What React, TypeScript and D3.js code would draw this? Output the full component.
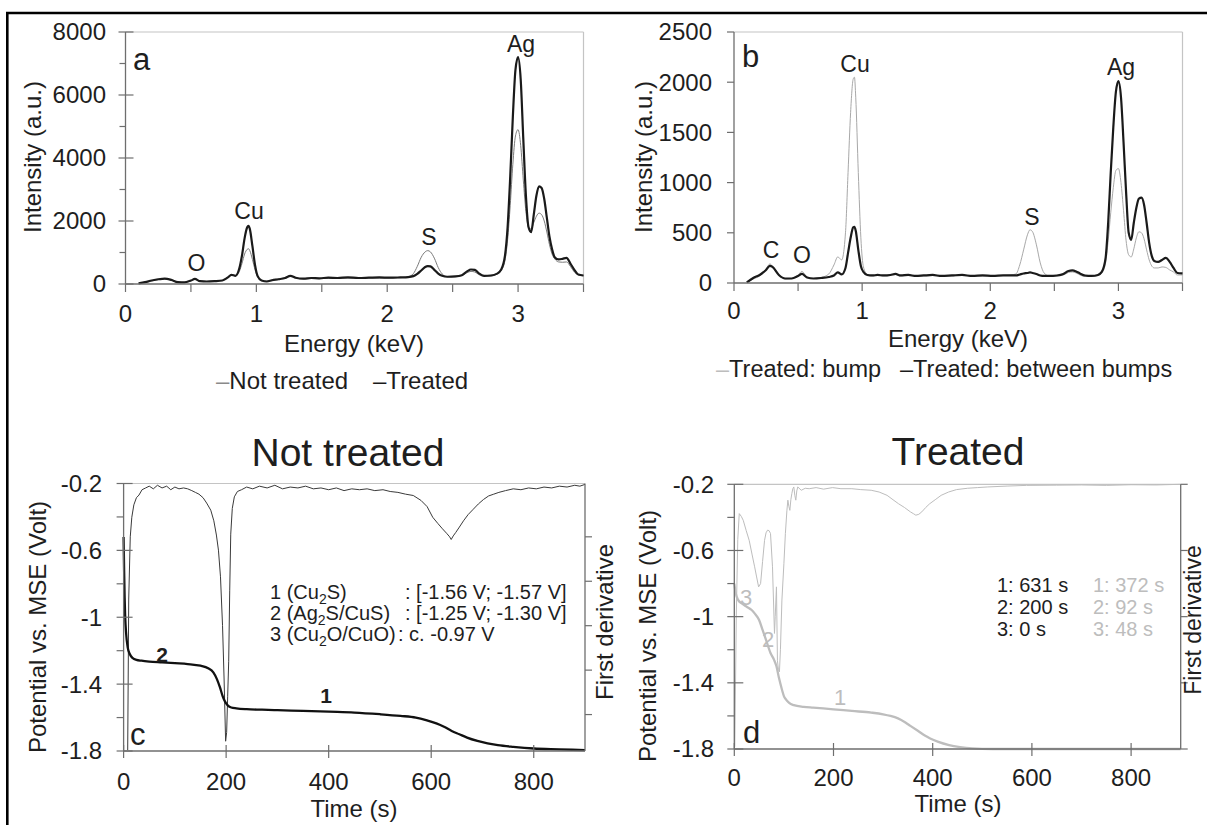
import React from 'react';
import * as d3 from 'd3';

// ---------- DATA ----------
const energyKeV = [
  0.10, 0.15, 0.20, 0.25, 0.28, 0.30, 0.35, 0.40, 0.45, 0.50,
  0.53, 0.57, 0.62, 0.68, 0.74, 0.78, 0.81, 0.84, 0.87, 0.89,
  0.91, 0.93, 0.94, 0.95, 0.97, 0.99, 1.01, 1.04, 1.08, 1.12,
  1.17, 1.22, 1.26, 1.30, 1.36, 1.42, 1.48, 1.55, 1.62, 1.70,
  1.78, 1.86, 1.94, 2.02, 2.10, 2.16, 2.20, 2.23, 2.26, 2.29,
  2.31, 2.33, 2.36, 2.39, 2.42, 2.46, 2.52, 2.57, 2.61, 2.64,
  2.67, 2.70, 2.74, 2.79, 2.84, 2.87, 2.90, 2.92, 2.94, 2.96,
  2.98, 3.00, 3.02, 3.04, 3.06, 3.08, 3.10, 3.12, 3.14, 3.16,
  3.18, 3.20, 3.22, 3.24, 3.26, 3.28, 3.31, 3.34, 3.37, 3.40,
  3.43, 3.46, 3.50,
];

// Panel a
const intensityTreated = [
  20, 60, 110, 150, 165, 170, 130, 60, 50, 110,
  160, 90, 80, 90, 110, 200, 290, 260, 500, 900,
  1450, 1800, 1850, 1750, 1200, 600, 250, 110, 80, 120,
  150, 190, 260, 200, 170, 190, 180, 200, 190, 210,
  190, 200, 210, 200, 210, 220, 250, 320, 430, 540,
  570, 560, 450, 330, 260, 230, 240, 280, 400, 460,
  450, 340, 260, 270, 330, 450, 900, 1800, 3400, 5300,
  6800, 7200, 6500, 4600, 2800, 1800, 1650, 2200, 2800, 3100,
  3050, 2700, 2100, 1500, 1100, 850, 780, 800, 830, 650,
  450, 300, 270,
];
const intensityNotTreated = [
  20, 60, 100, 140, 155, 160, 120, 60, 50, 100,
  150, 90, 80, 90, 110, 220, 300, 260, 400, 650,
  950, 1100, 1120, 1060, 780, 450, 220, 110, 90, 130,
  160, 200, 250, 190, 160, 180, 170, 180, 180, 190,
  180, 190, 190, 190, 200, 230, 330, 560, 850, 1020,
  1060, 1020, 820, 520, 320, 230, 230, 270, 360, 400,
  380, 300, 250, 250, 320, 420, 750, 1400, 2500, 3800,
  4700, 4900, 4400, 3300, 2300, 1800, 1750, 1950, 2150, 2250,
  2200, 2000, 1650, 1250, 950, 800, 700, 690, 700, 560,
  380, 290, 260,
];

// Panel b
const intensityBetweenBumps = [
  5, 50, 80, 130, 170, 160, 80, 45, 45, 70,
  90, 55, 45, 50, 60, 75, 105, 85, 150, 300,
  450, 555, 560, 520, 330, 170, 110, 80, 75, 80,
  75, 80, 90, 75, 80, 70, 75, 80, 70, 75,
  80, 70, 75, 70, 75, 75, 75, 85, 95, 100,
  105, 100, 90, 75, 70, 70, 75, 90, 120, 125,
  115, 95, 75, 70, 80, 110, 250, 600, 1100, 1550,
  1900, 2010, 1850, 1400, 900, 500, 430, 600, 750, 840,
  850, 780, 600, 400, 270, 220, 210, 230, 250, 210,
  150, 100, 95,
];
const intensityBump = [
  5, 40, 70, 140, 190, 170, 80, 40, 45, 80,
  115, 60, 45, 55, 90, 180, 260, 230, 500, 1100,
  1700, 2030, 2050, 1850, 1100, 450, 160, 85, 70, 75,
  70, 75, 85, 70, 75, 70, 70, 75, 70, 70,
  75, 70, 70, 70, 75, 80, 90, 180, 330, 480,
  530, 510, 380, 200, 100, 70, 70, 80, 105, 110,
  100, 80, 65, 65, 75, 100, 200, 420, 700, 950,
  1120, 1140, 1000, 720, 420, 280, 260, 340, 450, 510,
  500, 440, 330, 230, 170, 150, 150, 160, 155, 130,
  110, 80, 80,
];

// Panel c (not treated)
const timeNotTreated = [
  0, 1, 2, 3, 5, 8, 12, 18, 25, 35, 50, 75, 100, 125, 150, 165, 175, 182, 188, 193,
  197, 200, 204, 210, 220, 240, 270, 300, 350, 400, 450, 500, 540, 570, 590, 610,
  625, 640, 655, 670, 690, 710, 730, 760, 800, 850, 900,
];
const potentialNotTreated = [
  -0.52, -0.72, -0.88, -0.99, -1.10, -1.18, -1.22, -1.245, -1.255, -1.26, -1.265, -1.27,
  -1.275, -1.28, -1.29, -1.305, -1.33, -1.37, -1.42, -1.47,
  -1.50, -1.515, -1.53, -1.54, -1.545, -1.55, -1.553, -1.556, -1.56, -1.565, -1.57, -1.58,
  -1.59, -1.60, -1.615, -1.635, -1.655, -1.68, -1.70, -1.72, -1.74, -1.755, -1.765, -1.775,
  -1.785, -1.79, -1.795,
];
const derivTimeNotTreated = [
  8, 10, 13, 16, 20, 25, 30, 36, 43, 50, 58, 66, 75, 84, 92, 100, 108, 117, 125, 133,
  140, 147, 155, 162, 170, 176, 181, 185, 189, 193, 196, 199, 201, 203, 205, 207, 209, 212,
  216, 222, 230, 240, 252, 265, 280, 295, 310, 325, 340, 355, 370, 385, 400, 415, 430, 445,
  460, 475, 490, 506, 520, 535, 550, 565, 580, 592, 603, 613, 622, 630, 636, 639, 643, 648,
  655, 663, 672, 682, 692, 702, 712, 722, 732, 745, 760, 775, 790, 805, 820, 835, 850, 865,
  880, 890, 900,
];
const derivNotTreated = [
  -29, -12, -5, -2.8, -1.4, -0.6, -0.3, 0.3, 0.5, 0.7, 0.4, 0.8, 0.5, 0.7, 0.3, 0.6, 0.4, 0.5, 0.4, 0.2,
  0.0, -0.2, -0.6, -1.2, -2.0, -3.2, -4.8, -6.5, -9.5, -15, -21, -28, -27, -23, -19, -11, -4.7, -1.8,
  -0.5, 0.1, 0.3, 0.6, 0.4, 0.7, 0.5, 0.8, 0.4, 0.6, 0.5, 0.7, 0.4, 0.5, 0.3, 0.5, 0.2, 0.4,
  0.3, 0.4, 0.2, 0.3, 0.1, 0.0, -0.2, -0.35, -0.9, -1.6, -2.8, -3.5, -4.1, -4.6, -5.0, -5.3, -4.9, -4.5,
  -3.9, -3.2, -2.5, -1.9, -1.3, -0.8, -0.4, -0.2, 0.0, 0.2, 0.4, 0.3, 0.5, 0.4, 0.6, 0.5, 0.7, 0.6,
  0.8, 0.7, 0.9,
];

// Panel d (treated)
const timeTreated = [
  0, 3, 8, 15, 25, 35, 41, 50, 57, 65, 73, 80, 85, 90, 96, 100, 104, 110, 120, 140,
  159, 200, 237, 276, 300, 315, 330, 345, 355, 370, 385, 394, 410, 433, 455, 480, 520, 600,
  700, 800, 900,
];
const potentialTreated = [
  -0.80, -0.86, -0.90, -0.92, -0.94, -0.96, -0.98, -1.02, -1.08, -1.15, -1.22, -1.26, -1.30,
  -1.37, -1.44, -1.48, -1.50, -1.52, -1.535, -1.545,
  -1.55, -1.56, -1.57, -1.58, -1.59, -1.60, -1.615, -1.64, -1.66, -1.69, -1.72, -1.735,
  -1.755, -1.776, -1.788, -1.796, -1.80, -1.80, -1.80, -1.80, -1.80,
];
const derivTimeTreated = [
  1, 4, 7, 10, 14, 18, 24, 30, 36, 41, 45, 49, 53, 57, 61, 64, 67, 70, 73, 77,
  81, 82.5, 85, 87, 89, 91, 93, 96, 100, 103, 106, 108, 110, 112, 114, 116, 118, 120, 122, 124,
  126, 128, 135, 143, 151, 165, 180, 198, 215, 237, 255, 276, 292, 308, 320, 331, 343, 355, 361, 366,
  372, 378, 386, 394, 405, 417, 432, 448, 470, 490, 511, 550, 589, 650, 700, 750, 800, 850, 900,
];
const derivTreated = [
  -11.9, -6.0, -2.5, -1.33, -1.45, -1.63, -2.1, -2.54, -3.2, -3.74, -4.2, -4.65, -4.5, -3.5, -2.54, -2.2, -2.08, -2.1, -2.23, -3.74,
  -6.76, -6.0, -4.65, -8.0, -8.4, -8.5, -7.5, -5.25, -3.6, -2.23, -1.2, -0.72, -1.0, -1.18, -0.7, -0.42, -0.2, -0.12, -0.5, -0.72,
  -0.3, -0.12, -0.27, -0.18, -0.2, -0.15, -0.22, -0.15, -0.2, -0.2, -0.24, -0.27, -0.35, -0.5, -0.7, -0.88, -1.05, -1.25, -1.33, -1.4,
  -1.36, -1.25, -1.05, -0.88, -0.7, -0.5, -0.35, -0.24, -0.18, -0.15, -0.12, -0.08, -0.05, -0.04, -0.03, -0.05, -0.02, -0.03, 0.0,
];

// Tick values
const energyTickLabels = [0, 1, 2, 3];
const aIntensityTicks = [0, 2000, 4000, 6000, 8000];
const bIntensityTicks = [0, 500, 1000, 1500, 2000, 2500];
const timeTickLabels = [0, 200, 400, 600, 800];
const potentialTickLabels = [-0.2, -0.6, -1, -1.4, -1.8];
const cDerivTicks = [-5, -10, -15, -20, -25];
const dDerivTicks = [0, -3, -6, -9, -12];

// ---------- STYLE ----------
const FONT = "'Liberation Sans', Arial, Helvetica, sans-serif";
const AXIS = '#6e6e6e';
const FRAME = '#c4c4c4';
const TXT = '#1e1e1e';
const LIGHT = '#bdbdbd';

function linePath(xs: number[], ys: number[], sx: any, sy: any, curve: any = d3.curveLinear) {
  const n = Math.min(xs.length, ys.length);
  const pts = d3.range(n).map((i) => [xs[i], ys[i]] as [number, number]);
  return (
    d3
      .line<[number, number]>()
      .x((d) => sx(d[0]))
      .y((d) => sy(d[1]))
      .curve(curve)(pts) || ''
  );
}

// ---------- PANELS ----------
function SpectrumPanel(props: {
  left: number; right: number; top: number; bottom: number;
  yMax: number; yTicks: number[]; yMinorStep: number | null; majorCross: boolean;
  labelEnd: number; tickLabelY: number;
  series: { values: number[]; color: string; width: number }[];
}) {
  const { left, right, top, bottom, yMax, yTicks, yMinorStep, majorCross, labelEnd, tickLabelY, series } = props;
  const sx = d3.scaleLinear().domain([0, 3.5]).range([left, right]);
  const sy = d3.scaleLinear().domain([0, yMax]).range([bottom, top]);
  const xMinor = d3.range(0, 3.51, 0.5);
  const yMinor = yMinorStep ? d3.range(0, yMax + 1, yMinorStep).filter((v) => !yTicks.includes(v)) : [];
  return (
    <g>
      <line x1={left} y1={top} x2={right} y2={top} stroke={FRAME} strokeWidth={1.2} />
      <line x1={right} y1={top} x2={right} y2={bottom} stroke={FRAME} strokeWidth={1.2} />
      {series.map((s, i) => (
        <path key={i} d={linePath(energyKeV, s.values, sx, sy, d3.curveMonotoneX)} fill="none" stroke={s.color} strokeWidth={s.width} strokeLinejoin="round" />
      ))}
      <line x1={left} y1={top} x2={left} y2={bottom} stroke={AXIS} strokeWidth={1.3} />
      <line x1={left} y1={bottom} x2={right} y2={bottom} stroke={AXIS} strokeWidth={1.3} />
      {xMinor.map((v) => (
        <line key={'xt' + v} x1={sx(v)} x2={sx(v)} y1={bottom} y2={bottom + 8} stroke={AXIS} strokeWidth={1.2} />
      ))}
      {yTicks.map((v) => (
        <line key={'yt' + v} x1={left - 7} x2={majorCross ? left + 8 : left} y1={sy(v)} y2={sy(v)} stroke={AXIS} strokeWidth={1.2} />
      ))}
      {yMinor.map((v) => (
        <line key={'ym' + v} x1={left - 6} x2={left} y1={sy(v)} y2={sy(v)} stroke={AXIS} strokeWidth={1.2} />
      ))}
      {energyTickLabels.map((v) => (
        <text key={'xl' + v} x={sx(v)} y={tickLabelY} textAnchor="middle" fontSize={24} fill={TXT}>{v}</text>
      ))}
      {yTicks.map((v) => (
        <text key={'yl' + v} x={labelEnd} y={sy(v)} dy="0.35em" textAnchor="end" fontSize={24} fill={TXT}>{v}</text>
      ))}
    </g>
  );
}

function PotentialPanel(props: {
  left: number; right: number; top: number; bottom: number;
  labelEnd: number; tickLabelY: number;
  derivDomain: [number, number]; derivTicks: number[];
  potT: number[]; potV: number[]; potColor: string;
  derT: number[]; derV: number[]; derColor: string;
}) {
  const { left, right, top, bottom, labelEnd, tickLabelY, derivDomain, derivTicks, potT, potV, potColor, derT, derV, derColor } = props;
  const sx = d3.scaleLinear().domain([0, 900]).range([left, right]);
  const sy = d3.scaleLinear().domain([-1.8, -0.2]).range([bottom, top]);
  const syR = d3.scaleLinear().domain(derivDomain).range([bottom, top]);
  const allY = d3.range(0, 9).map((i) => +(-0.2 - 0.2 * i).toFixed(1));
  const minorY = allY.filter((v) => !potentialTickLabels.some((m) => Math.abs(m - v) < 1e-6));
  return (
    <g>
      <line x1={left} y1={top} x2={right} y2={top} stroke={FRAME} strokeWidth={1.2} />
      <path d={linePath(derT, derV, sx, syR)} fill="none" stroke={derColor} strokeWidth={1} strokeLinejoin="round" />
      <path d={linePath(potT, potV, sx, sy, d3.curveMonotoneX)} fill="none" stroke={potColor} strokeWidth={2.3} strokeLinejoin="round" />
      <line x1={left} y1={top} x2={left} y2={bottom} stroke={AXIS} strokeWidth={1.3} />
      <line x1={right} y1={top} x2={right} y2={bottom} stroke={AXIS} strokeWidth={1.3} />
      <line x1={left} y1={bottom} x2={right} y2={bottom} stroke={AXIS} strokeWidth={1.3} />
      {timeTickLabels.map((v) => (
        <line key={'xt' + v} x1={sx(v)} x2={sx(v)} y1={bottom - 6} y2={bottom + 7} stroke={AXIS} strokeWidth={1.2} />
      ))}
      {potentialTickLabels.map((v) => (
        <line key={'ytM' + v} x1={left - 7} x2={left + 9} y1={sy(v)} y2={sy(v)} stroke={AXIS} strokeWidth={1.2} />
      ))}
      {minorY.map((v) => (
        <line key={'ytm' + v} x1={left - 7} x2={left} y1={sy(v)} y2={sy(v)} stroke={AXIS} strokeWidth={1.2} />
      ))}
      {derivTicks.map((v) => (
        <line key={'rt' + v} x1={right} x2={right + 7} y1={syR(v)} y2={syR(v)} stroke={AXIS} strokeWidth={1.2} />
      ))}
      {timeTickLabels.map((v) => (
        <text key={'xl' + v} x={sx(v)} y={tickLabelY} textAnchor="middle" fontSize={24} fill={TXT}>{v}</text>
      ))}
      {potentialTickLabels.map((v) => (
        <text key={'yl' + v} x={labelEnd} y={sy(v)} dy="0.35em" textAnchor="end" fontSize={24} fill={TXT}>{String(v)}</text>
      ))}
    </g>
  );
}

export default function App() {
  React.useEffect(() => {
    document.body.style.margin = '0';
  }, []);
  return (
    <svg
      width={1207}
      height={825}
      viewBox="0 0 1207 825"
      style={{ position: 'absolute', left: 0, top: 0, display: 'block', background: '#ffffff' }}
      fontFamily={FONT}
    >
      <rect x={0} y={0} width={1207} height={825} fill="#ffffff" />

      {/* Panel a */}
      <SpectrumPanel
        left={125.5} right={583.5} top={32} bottom={284}
        yMax={8000} yTicks={aIntensityTicks} yMinorStep={1000} majorCross={true}
        labelEnd={106} tickLabelY={322}
        series={[
          { values: intensityNotTreated, color: '#7a7a7a', width: 1 },
          { values: intensityTreated, color: '#1a1a1a', width: 2.2 },
        ]}
      />
      <text x={133} y={70} fontSize={31} fill={TXT}>a</text>
      <text x={196.5} y={271} fontSize={23} textAnchor="middle" fill={TXT}>O</text>
      <text x={249} y={219} fontSize={23} textAnchor="middle" fill={TXT}>Cu</text>
      <text x={429} y={245} fontSize={23} textAnchor="middle" fill={TXT}>S</text>
      <text x={521} y={52} fontSize={23} textAnchor="middle" fill={TXT}>Ag</text>
      <text transform="translate(41,157) rotate(-90)" textAnchor="middle" fontSize={24} fill={TXT}>Intensity (a.u.)</text>
      <text x={354} y={352} textAnchor="middle" fontSize={24} fill={TXT}>Energy (keV)</text>
      <text x={216} y={389} fontSize={24} fill={TXT}>
        <tspan fill="#8a8a8a">–</tspan>Not treated
      </text>
      <text x={373} y={389} fontSize={24} fill={TXT}>
        <tspan fill="#1a1a1a">–</tspan>Treated
      </text>

      {/* Panel b */}
      <SpectrumPanel
        left={734} right={1182.5} top={32} bottom={283}
        yMax={2500} yTicks={bIntensityTicks} yMinorStep={null} majorCross={false}
        labelEnd={712} tickLabelY={319}
        series={[
          { values: intensityBump, color: '#a8a8a8', width: 1 },
          { values: intensityBetweenBumps, color: '#1a1a1a', width: 2.2 },
        ]}
      />
      <text x={742} y={67} fontSize={31} fill={TXT}>b</text>
      <text x={771} y={258} fontSize={23} textAnchor="middle" fill={TXT}>C</text>
      <text x={802} y={263} fontSize={23} textAnchor="middle" fill={TXT}>O</text>
      <text x={855} y={72} fontSize={23} textAnchor="middle" fill={TXT}>Cu</text>
      <text x={1032} y={225} fontSize={23} textAnchor="middle" fill={TXT}>S</text>
      <text x={1121} y={75} fontSize={23} textAnchor="middle" fill={TXT}>Ag</text>
      <text transform="translate(652,157) rotate(-90)" textAnchor="middle" fontSize={24} fill={TXT}>Intensity (a.u.)</text>
      <text x={958} y={347} textAnchor="middle" fontSize={24} fill={TXT}>Energy (keV)</text>
      <text x={716} y={377} fontSize={23.5} fill={TXT}>
        <tspan fill={LIGHT}>–</tspan>Treated: bump
      </text>
      <text x={900} y={377} fontSize={23.5} fill={TXT}>
        <tspan fill="#1a1a1a">–</tspan>Treated: between bumps
      </text>

      {/* Panel c */}
      <text x={348} y={466} textAnchor="middle" fontSize={39} fill={TXT}>Not treated</text>
      <PotentialPanel
        left={123.6} right={585} top={483.5} bottom={751}
        labelEnd={102} tickLabelY={790}
        derivDomain={[-29.1, 1.0]} derivTicks={cDerivTicks}
        potT={timeNotTreated} potV={potentialNotTreated} potColor="#111111"
        derT={derivTimeNotTreated} derV={derivNotTreated} derColor="#3a3a3a"
      />
      <text x={130} y={745} fontSize={31} fill={TXT}>c</text>
      <text x={162} y={662} fontSize={21} fontWeight="bold" textAnchor="middle" fill={TXT}>2</text>
      <text x={326} y={703} fontSize={21} fontWeight="bold" textAnchor="middle" fill={TXT}>1</text>
      <text x={270} y={599} fontSize={20} fill={TXT}>
        1 (Cu<tspan dy={5} fontSize={14}>2</tspan><tspan dy={-5}>S)</tspan>
      </text>
      <text x={405} y={599} fontSize={20} fill={TXT}>: [-1.56 V; -1.57 V]</text>
      <text x={270} y={620} fontSize={20} fill={TXT}>
        2 (Ag<tspan dy={5} fontSize={14}>2</tspan><tspan dy={-5}>S/CuS)</tspan>
      </text>
      <text x={405} y={620} fontSize={20} fill={TXT}>: [-1.25 V; -1.30 V]</text>
      <text x={270} y={641} fontSize={20} fill={TXT}>
        3 (Cu<tspan dy={5} fontSize={14}>2</tspan><tspan dy={-5}>O/CuO)</tspan>
      </text>
      <text x={398} y={641} fontSize={20} fill={TXT}>: c. -0.97 V</text>
      <text transform="translate(46,627) rotate(-90)" textAnchor="middle" fontSize={24} fill={TXT}>Potential vs. MSE (Volt)</text>
      <text transform="translate(613,622) rotate(-90)" textAnchor="middle" fontSize={24} fill={TXT}>First derivative</text>
      <text x={354} y={817} textAnchor="middle" fontSize={24} fill={TXT}>Time (s)</text>

      {/* Panel d */}
      <text x={958} y={465} textAnchor="middle" fontSize={39} fill={TXT}>Treated</text>
      <PotentialPanel
        left={734.3} right={1180.7} top={484.3} bottom={749}
        labelEnd={714} tickLabelY={786}
        derivDomain={[-12, 0]} derivTicks={dDerivTicks}
        potT={timeTreated} potV={potentialTreated} potColor={LIGHT}
        derT={derivTimeTreated} derV={derivTreated} derColor={LIGHT}
      />
      <text x={743} y={743} fontSize={31} fill={TXT}>d</text>
      <text x={746} y={605} fontSize={22} textAnchor="middle" fill={LIGHT}>3</text>
      <text x={768} y={647} fontSize={22} textAnchor="middle" fill={LIGHT}>2</text>
      <text x={840} y={705} fontSize={22} textAnchor="middle" fill={LIGHT}>1</text>
      <text x={997} y={592} fontSize={20} fill={TXT}>1: 631 s</text>
      <text x={997} y={614} fontSize={20} fill={TXT}>2: 200 s</text>
      <text x={997} y={636} fontSize={20} fill={TXT}>3: 0 s</text>
      <text x={1093} y={592} fontSize={20} fill={LIGHT}>1: 372 s</text>
      <text x={1093} y={614} fontSize={20} fill={LIGHT}>2: 92 s</text>
      <text x={1093} y={636} fontSize={20} fill={LIGHT}>3: 48 s</text>
      <text transform="translate(656,636) rotate(-90)" textAnchor="middle" fontSize={24} fill={TXT}>Potential vs. MSE (Volt)</text>
      <text transform="translate(1201,620) rotate(-90)" textAnchor="middle" fontSize={23} fill={TXT}>First derivative</text>
      <text x={958} y={812} textAnchor="middle" fontSize={24} fill={TXT}>Time (s)</text>

      {/* Outer frame */}
      <line x1={6} y1={13} x2={1207} y2={13} stroke="#000" strokeWidth={2.6} />
      <line x1={7.3} y1={12} x2={7.3} y2={825} stroke="#000" strokeWidth={2.6} />
    </svg>
  );
}
